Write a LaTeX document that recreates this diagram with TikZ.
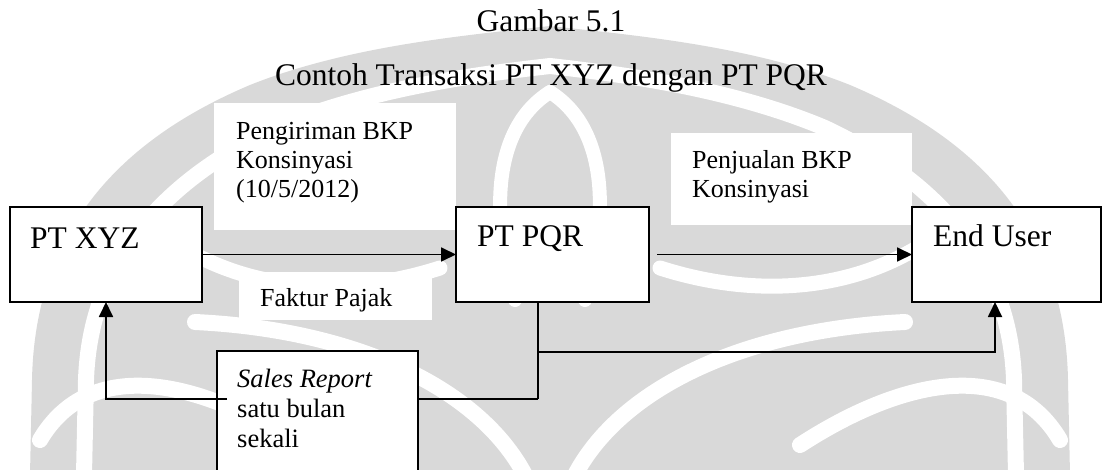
\documentclass[tikz,border=0pt]{standalone}
\usepackage{fontspec}
\setmainfont{Liberation Serif}
\usetikzlibrary{arrows.meta,calc}
\definecolor{wmgray}{RGB}{217,217,217}
\begin{document}
\begin{tikzpicture}[x=1pt,y=-1pt,
  entity/.style={draw=black, line width=2pt, fill=white, inner sep=0pt, outer sep=0pt, anchor=north west},
  blank/.style={fill=white, inner sep=0pt, outer sep=0pt, anchor=north west},
  boxtext/.style={anchor=base west, inner sep=0pt, font=\fontsize{31.5}{36}\selectfont},
  % multi-line texts: the base anchor sits on the last line
  flowtext/.style={anchor=base west, inner sep=0pt, align=left, font=\fontsize{26}{29}\selectfont},
  reporttext/.style={anchor=base west, inner sep=0pt, align=left, font=\fontsize{26.5}{30}\selectfont},
  titletext/.style={anchor=base, inner sep=0pt, font=\fontsize{31.5}{36}\selectfont},
  link/.style={draw=black, line width=1.8pt},
  arrowlink/.style={link, -{Triangle[length=15pt,width=14pt]}},
  emblem/.style={fill=wmgray},
  gap/.style={draw=white, line width=#1, line cap=round}]
\useasboundingbox (0,0) rectangle (1102,470);

% university emblem in the page background (symmetric about x = 550)
\begin{scope}
  \clip (0,0) rectangle (1102,470);
  % outer pointed dome
  \fill[emblem] (30,475) -- (32,380) .. controls (35,230) and (120,140) .. (250,85)
               .. controls (350,45) and (470,35) .. (550,26)
               .. controls (630,35) and (750,45) .. (850,85)
               .. controls (980,140) and (1065,230) .. (1068,380) -- (1070,475) -- cycle;
  % inner arch
  \draw[gap=16pt] (84,475) -- (86,380) .. controls (90,260) and (165,180) .. (275,128)
                  .. controls (370,88) and (480,74) .. (550,66)
                  .. controls (620,74) and (730,88) .. (825,128)
                  .. controls (935,180) and (1010,260) .. (1014,380) -- (1016,475);
  % central flame
  \draw[gap=14pt] (550,92) .. controls (490,130) and (492,220) .. (515,300);
  \draw[gap=14pt] (550,92) .. controls (610,130) and (608,220) .. (585,300);
  % lower curls, right side
  \draw[gap=16pt] (575,475) .. controls (620,390) and (740,330) .. (905,322);
  \draw[gap=15pt] (660,268) .. controls (760,300) and (860,290) .. (935,236);
  \draw[gap=16pt] (800,445) .. controls (900,380) and (1010,355) .. (1060,440);
  % lower curls, left side
  \draw[gap=16pt] (525,475) .. controls (480,390) and (360,330) .. (195,322);
  \draw[gap=15pt] (440,268) .. controls (340,300) and (240,290) .. (165,236);
  \draw[gap=16pt] (300,445) .. controls (200,380) and (90,355) .. (40,440);
\end{scope}

% titles
\node[titletext] (ttl) at (551,32) {Gambar 5.1};
\node[titletext] (sub) at (551,86) {Contoh Transaksi PT XYZ dengan PT PQR};

% white grounds behind the flow labels
\node[blank, minimum width=242pt, minimum height=127pt] (bgship) at (214,103) {};
\node[blank, minimum width=241pt, minimum height=92pt] (bgsale) at (671,133) {};
\node[blank, minimum width=193pt, minimum height=48pt] (bgtax) at (239,272) {};

% flow labels
\node[flowtext] (lship) at (236,198) {Pengiriman BKP\\Konsinyasi\\(10/5/2012)};
\node[flowtext] (lsale) at (692,198) {Penjualan BKP\\Konsinyasi};
\node[flowtext] (ltax) at (260,306) {Faktur Pajak};

% parties
\node[entity, minimum width=192pt, minimum height=95pt] (xyz) at (10,207) {};
\node[entity, minimum width=193pt, minimum height=95pt] (pqr) at (456,207) {};
\node[entity, minimum width=189pt, minimum height=95pt] (end) at (912,207) {};
\node[boxtext] (txyz) at (30,248) {PT XYZ};
\node[boxtext] (tpqr) at (477,247) {PT PQR};
\node[boxtext] (tend) at (933,247) {End User};

% shipment and sale
\coordinate (pqrout) at ($(pqr.east)+(8,0)$);
\draw[arrowlink] (xyz.east) -- (pqr.west);
\draw[arrowlink] (pqrout) -- (end.west);

% report lines from PT PQR
\coordinate (jdown) at (538,399);
\coordinate (jbranch) at (538,352);
\coordinate (eturn) at (995,352);
\draw[link] (pqr.south -| jdown) -- (jdown);
\draw[arrowlink] (jbranch) -- (eturn) -- (eturn |- end.south);

% monthly sales report
\node[entity, minimum width=201pt, minimum height=125pt] (rep) at (217,351) {};
\node[reporttext] (trep) at (237,447) {\textit{Sales Report}\\satu bulan\\sekali};
\draw[link] (jdown) -- (rep.east |- jdown);
\coordinate (rin) at (227,399);
\coordinate (xturn) at (106,399);
\draw[arrowlink] (rin) -- (xturn) -- (xturn |- xyz.south);
\end{tikzpicture}
\end{document}
